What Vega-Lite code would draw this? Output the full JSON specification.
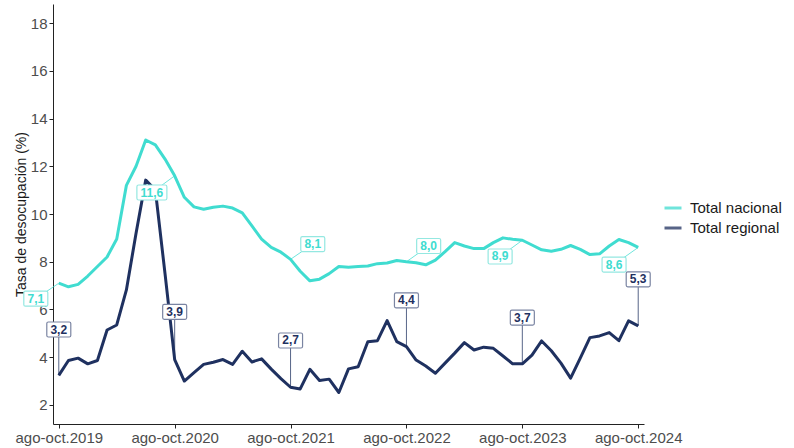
{
  "$schema": "https://vega.github.io/schema/vega-lite/v6.json",
  "width": 591,
  "height": 420,
  "autosize": {"type": "none"},
  "padding": {"left": 53, "top": 4, "right": 150, "bottom": 24},
  "background": "white",
  "config": {
    "font": "Liberation Sans",
    "view": {"stroke": null},
    "axis": {
      "grid": false,
      "domainColor": "#222222",
      "domainWidth": 1,
      "tickColor": "#222222",
      "tickSize": 4,
      "labelColor": "#4d4d4d",
      "labelFontSize": 15,
      "labelPadding": 2,
      "titleColor": "#1a1a1a",
      "titleFontSize": 14,
      "titleFontWeight": "normal"
    },
    "legend": {
      "labelFontSize": 15,
      "labelColor": "#1a1a1a",
      "padding": 0
    }
  },
  "datasets": {
    "series": [
      {"t":0,"serie":"Total nacional","valor":7.1},{"t":1,"serie":"Total nacional","valor":6.95},{"t":2,"serie":"Total nacional","valor":7.05},{"t":3,"serie":"Total nacional","valor":7.4},{"t":4,"serie":"Total nacional","valor":7.8},{"t":5,"serie":"Total nacional","valor":8.2},{"t":6,"serie":"Total nacional","valor":8.95},{"t":7,"serie":"Total nacional","valor":11.2},{"t":8,"serie":"Total nacional","valor":12.0},{"t":9,"serie":"Total nacional","valor":13.1},{"t":10,"serie":"Total nacional","valor":12.9},{"t":11,"serie":"Total nacional","valor":12.3},{"t":12,"serie":"Total nacional","valor":11.6},{"t":13,"serie":"Total nacional","valor":10.7},{"t":14,"serie":"Total nacional","valor":10.3},{"t":15,"serie":"Total nacional","valor":10.2},{"t":16,"serie":"Total nacional","valor":10.28},{"t":17,"serie":"Total nacional","valor":10.33},{"t":18,"serie":"Total nacional","valor":10.25},{"t":19,"serie":"Total nacional","valor":10.05},{"t":20,"serie":"Total nacional","valor":9.5},{"t":21,"serie":"Total nacional","valor":8.95},{"t":22,"serie":"Total nacional","valor":8.6},{"t":23,"serie":"Total nacional","valor":8.4},{"t":24,"serie":"Total nacional","valor":8.1},{"t":25,"serie":"Total nacional","valor":7.6},{"t":26,"serie":"Total nacional","valor":7.2},{"t":27,"serie":"Total nacional","valor":7.27},{"t":28,"serie":"Total nacional","valor":7.5},{"t":29,"serie":"Total nacional","valor":7.8},{"t":30,"serie":"Total nacional","valor":7.77},{"t":31,"serie":"Total nacional","valor":7.8},{"t":32,"serie":"Total nacional","valor":7.82},{"t":33,"serie":"Total nacional","valor":7.92},{"t":34,"serie":"Total nacional","valor":7.95},{"t":35,"serie":"Total nacional","valor":8.05},{"t":36,"serie":"Total nacional","valor":8.0},{"t":37,"serie":"Total nacional","valor":7.96},{"t":38,"serie":"Total nacional","valor":7.87},{"t":39,"serie":"Total nacional","valor":8.07},{"t":40,"serie":"Total nacional","valor":8.42},{"t":41,"serie":"Total nacional","valor":8.8},{"t":42,"serie":"Total nacional","valor":8.66},{"t":43,"serie":"Total nacional","valor":8.55},{"t":44,"serie":"Total nacional","valor":8.55},{"t":45,"serie":"Total nacional","valor":8.8},{"t":46,"serie":"Total nacional","valor":9.0},{"t":47,"serie":"Total nacional","valor":8.94},{"t":48,"serie":"Total nacional","valor":8.9},{"t":49,"serie":"Total nacional","valor":8.7},{"t":50,"serie":"Total nacional","valor":8.5},{"t":51,"serie":"Total nacional","valor":8.44},{"t":52,"serie":"Total nacional","valor":8.52},{"t":53,"serie":"Total nacional","valor":8.68},{"t":54,"serie":"Total nacional","valor":8.52},{"t":55,"serie":"Total nacional","valor":8.3},{"t":56,"serie":"Total nacional","valor":8.33},{"t":57,"serie":"Total nacional","valor":8.66},{"t":58,"serie":"Total nacional","valor":8.93},{"t":59,"serie":"Total nacional","valor":8.8},{"t":60,"serie":"Total nacional","valor":8.6},
      {"t":0,"serie":"Total regional","valor":3.24},{"t":1,"serie":"Total regional","valor":3.86},{"t":2,"serie":"Total regional","valor":3.96},{"t":3,"serie":"Total regional","valor":3.72},{"t":4,"serie":"Total regional","valor":3.86},{"t":5,"serie":"Total regional","valor":5.14},{"t":6,"serie":"Total regional","valor":5.35},{"t":7,"serie":"Total regional","valor":6.82},{"t":8,"serie":"Total regional","valor":9.19},{"t":9,"serie":"Total regional","valor":11.42},{"t":10,"serie":"Total regional","valor":11.0},{"t":11,"serie":"Total regional","valor":7.5},{"t":12,"serie":"Total regional","valor":3.9},{"t":13,"serie":"Total regional","valor":3.0},{"t":14,"serie":"Total regional","valor":3.35},{"t":15,"serie":"Total regional","valor":3.7},{"t":16,"serie":"Total regional","valor":3.79},{"t":17,"serie":"Total regional","valor":3.9},{"t":18,"serie":"Total regional","valor":3.7},{"t":19,"serie":"Total regional","valor":4.25},{"t":20,"serie":"Total regional","valor":3.8},{"t":21,"serie":"Total regional","valor":3.93},{"t":22,"serie":"Total regional","valor":3.5},{"t":23,"serie":"Total regional","valor":3.1},{"t":24,"serie":"Total regional","valor":2.74},{"t":25,"serie":"Total regional","valor":2.67},{"t":26,"serie":"Total regional","valor":3.49},{"t":27,"serie":"Total regional","valor":3.02},{"t":28,"serie":"Total regional","valor":3.08},{"t":29,"serie":"Total regional","valor":2.52},{"t":30,"serie":"Total regional","valor":3.51},{"t":31,"serie":"Total regional","valor":3.6},{"t":32,"serie":"Total regional","valor":4.65},{"t":33,"serie":"Total regional","valor":4.69},{"t":34,"serie":"Total regional","valor":5.53},{"t":35,"serie":"Total regional","valor":4.65},{"t":36,"serie":"Total regional","valor":4.44},{"t":37,"serie":"Total regional","valor":3.88},{"t":38,"serie":"Total regional","valor":3.63},{"t":39,"serie":"Total regional","valor":3.33},{"t":40,"serie":"Total regional","valor":3.75},{"t":41,"serie":"Total regional","valor":4.17},{"t":42,"serie":"Total regional","valor":4.61},{"t":43,"serie":"Total regional","valor":4.3},{"t":44,"serie":"Total regional","valor":4.42},{"t":45,"serie":"Total regional","valor":4.37},{"t":46,"serie":"Total regional","valor":4.05},{"t":47,"serie":"Total regional","valor":3.72},{"t":48,"serie":"Total regional","valor":3.72},{"t":49,"serie":"Total regional","valor":4.09},{"t":50,"serie":"Total regional","valor":4.68},{"t":51,"serie":"Total regional","valor":4.27},{"t":52,"serie":"Total regional","valor":3.75},{"t":53,"serie":"Total regional","valor":3.12},{"t":54,"serie":"Total regional","valor":3.96},{"t":55,"serie":"Total regional","valor":4.82},{"t":56,"serie":"Total regional","valor":4.89},{"t":57,"serie":"Total regional","valor":5.03},{"t":58,"serie":"Total regional","valor":4.69},{"t":59,"serie":"Total regional","valor":5.52},{"t":60,"serie":"Total regional","valor":5.31}
    ],
    "etiquetas": [
      {"serie":"Total nacional","t":0,"valor":7.1,"lt":-2.38,"lv":6.45,"label":"7,1"},
      {"serie":"Total nacional","t":12,"valor":11.6,"lt":9.64,"lv":10.9,"label":"11,6"},
      {"serie":"Total nacional","t":24,"valor":8.1,"lt":26.3,"lv":8.74,"label":"8,1"},
      {"serie":"Total nacional","t":36,"valor":8.0,"lt":38.3,"lv":8.66,"label":"8,0"},
      {"serie":"Total nacional","t":48,"valor":8.9,"lt":45.7,"lv":8.22,"label":"8,9"},
      {"serie":"Total nacional","t":60,"valor":8.6,"lt":57.5,"lv":7.88,"label":"8,6"},
      {"serie":"Total regional","t":0,"valor":3.24,"lt":0,"lv":5.16,"label":"3,2"},
      {"serie":"Total regional","t":12,"valor":3.9,"lt":12,"lv":5.9,"label":"3,9"},
      {"serie":"Total regional","t":24,"valor":2.74,"lt":24,"lv":4.7,"label":"2,7"},
      {"serie":"Total regional","t":36,"valor":4.44,"lt":36,"lv":6.38,"label":"4,4"},
      {"serie":"Total regional","t":48,"valor":3.72,"lt":48,"lv":5.66,"label":"3,7"},
      {"serie":"Total regional","t":60,"valor":5.31,"lt":60,"lv":7.26,"label":"5,3"}
    ]
  },
  "layer": [
    {
      "data": {"name": "series"},
      "mark": {"type": "line", "strokeWidth": 3, "strokeJoin": "round"},
      "encoding": {
        "x": {"field": "t", "type": "quantitative", "title": null,
              "scale": {"domain": [-0.6, 60.6], "nice": false, "zero": false},
              "axis": {"values": [0, 12, 24, 36, 48, 60], "labelExpr": "'ago-oct.' + (2019 + datum.value / 12)"}},
        "y": {"field": "valor", "type": "quantitative", "title": "Tasa de desocupación (%)",
              "scale": {"domain": [1.2, 18.8], "nice": false, "zero": false},
              "axis": {"values": [2, 4, 6, 8, 10, 12, 14, 16, 18], "titlePadding": 2}},
        "color": {"field": "serie", "type": "nominal",
                  "scale": {"domain": ["Total nacional", "Total regional"], "range": ["#40DCD0", "#1F3160"]},
                  "legend": {"title": null, "orient": "none", "legendX": 610, "legendY": 194,
                             "symbolType": "stroke", "symbolStrokeWidth": 3, "symbolSize": 289,
                             "labelOffset": 7, "rowPadding": 2}}
      }
    },
    {
      "data": {"name": "etiquetas"},
      "mark": {"type": "rule", "strokeWidth": 1, "opacity": 0.75},
      "encoding": {
        "x": {"field": "t", "type": "quantitative", "title": null,
              "axis": {"values": [0, 12, 24, 36, 48, 60], "labelExpr": "'ago-oct.' + (2019 + datum.value / 12)"}},
        "y": {"field": "valor", "type": "quantitative", "title": "Tasa de desocupación (%)",
              "axis": {"values": [2, 4, 6, 8, 10, 12, 14, 16, 18], "titlePadding": 2}},
        "x2": {"field": "lt"},
        "y2": {"field": "lv"},
        "color": {"field": "serie", "type": "nominal"}
      }
    },
    {
      "data": {"name": "etiquetas"},
      "mark": {"type": "point", "fill": "white", "fillOpacity": 1, "strokeWidth": 1.2, "opacity": 1},
      "encoding": {
        "x": {"field": "lt", "type": "quantitative", "title": null,
              "axis": {"values": [0, 12, 24, 36, 48, 60], "labelExpr": "'ago-oct.' + (2019 + datum.value / 12)"}},
        "y": {"field": "lv", "type": "quantitative", "title": "Tasa de desocupación (%)",
              "axis": {"values": [2, 4, 6, 8, 10, 12, 14, 16, 18], "titlePadding": 2}},
        "stroke": {"field": "serie", "type": "nominal",
                   "scale": {"domain": ["Total nacional", "Total regional"], "range": ["#94E8E1", "#7A84A2"]},
                   "legend": null},
        "shape": {"condition": {"test": "datum.label === '11,6'", "value": "M-0.88,-0.5 L0.88,-0.5 Q1,-0.5 1,-0.38 L1,0.38 Q1,0.5 0.88,0.5 L-0.88,0.5 Q-1,0.5 -1,0.38 L-1,-0.38 Q-1,-0.5 -0.88,-0.5 Z"},
                  "value": "M-0.87,-0.625 L0.87,-0.625 Q1,-0.625 1,-0.495 L1,0.495 Q1,0.625 0.87,0.625 L-0.87,0.625 Q-1,0.625 -1,0.495 L-1,-0.495 Q-1,-0.625 -0.87,-0.625 Z"},
        "size": {"condition": {"test": "datum.label === '11,6'", "value": 900}, "value": 576}
      }
    },
    {
      "data": {"name": "etiquetas"},
      "mark": {"type": "text", "fontSize": 12, "fontWeight": "bold", "align": "center", "baseline": "middle"},
      "encoding": {
        "x": {"field": "lt", "type": "quantitative", "title": null,
              "axis": {"values": [0, 12, 24, 36, 48, 60], "labelExpr": "'ago-oct.' + (2019 + datum.value / 12)"}},
        "y": {"field": "lv", "type": "quantitative", "title": "Tasa de desocupación (%)",
              "axis": {"values": [2, 4, 6, 8, 10, 12, 14, 16, 18], "titlePadding": 2}},
        "text": {"field": "label"},
        "color": {"field": "serie", "type": "nominal"}
      }
    }
  ]
}
